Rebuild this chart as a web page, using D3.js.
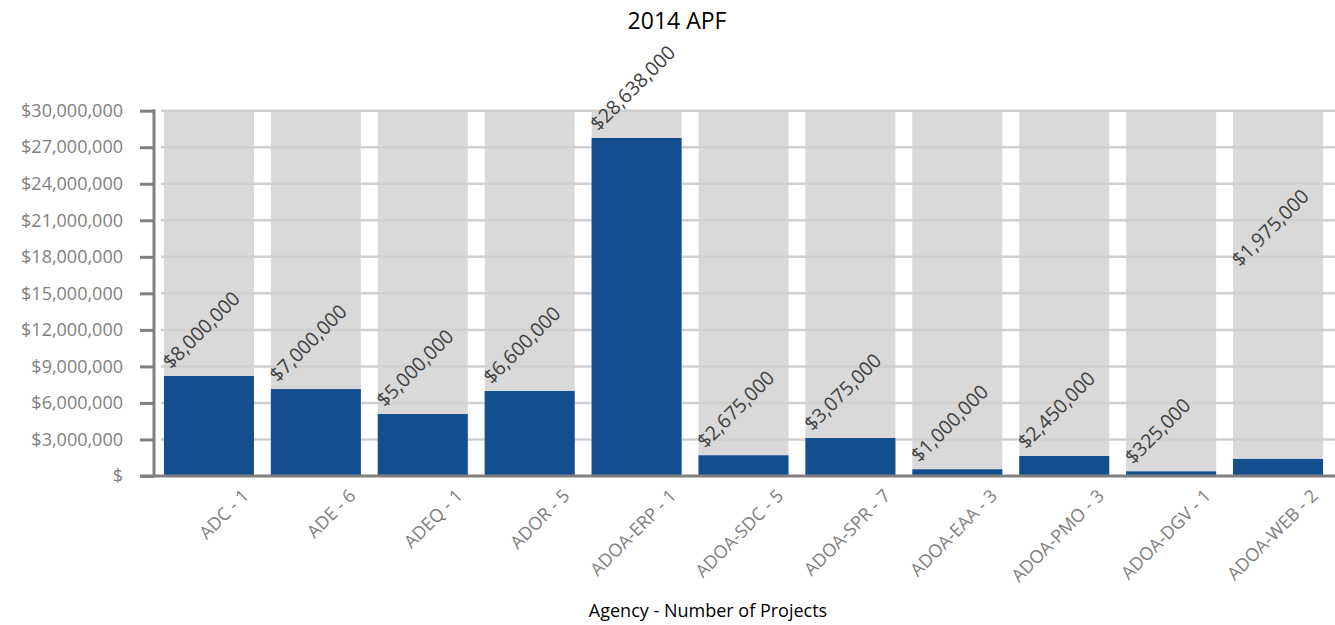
<!DOCTYPE html>
<html>
<head>
<meta charset="utf-8">
<script src="https://d3js.org/d3.v7.min.js"></script>
<style>
  body { margin: 0; background: #fff; }
  text { font-family: "Open Sans", "Noto Sans", sans-serif; }
</style>
</head>
<body>
<div id="my_dataviz"></div>
<script>
// chart data
var agencies = ["ADC - 1", "ADE - 6", "ADEQ - 1", "ADOR - 5", "ADOA-ERP - 1", "ADOA-SDC - 5",
                "ADOA-SPR - 7", "ADOA-EAA - 3", "ADOA-PMO - 3", "ADOA-DGV - 1", "ADOA-WEB - 2"];
// bar heights as drawn
var barValues = [8210000, 7140000, 5090000, 6980000, 27760000, 1700000,
                 3120000, 550000, 1640000, 380000, 1400000];
// data label text
var labelValues = [8000000, 7000000, 5000000, 6600000, 28638000, 2675000,
                   3075000, 1000000, 2450000, 325000, 1975000];
// value at which each data label sits
var labelAt = [8210000, 7140000, 5090000, 6980000, 27760000, 1700000,
               3120000, 550000, 1640000, 380000, 16600000];
var yTicks = [0, 3000000, 6000000, 9000000, 12000000, 15000000, 18000000,
              21000000, 24000000, 27000000, 30000000];
var yMax = 30000000;

var width = 1335, height = 625;

var svg = d3.select("#my_dataviz")
    .append("svg")
    .attr("width", width)
    .attr("height", height);

// scales
var x = d3.scaleBand()
    .domain(agencies)
    .range([155.5, 1331.5])
    .paddingInner(0.158)
    .paddingOuter(0.079);

var y = d3.scaleLinear()
    .domain([0, yMax])
    .range([476, 110.7]);

var money = d3.format("$,");

// gray background bars
svg.selectAll(".bg")
    .data(agencies)
    .enter()
    .append("rect")
    .attr("class", "bg")
    .attr("x", function(d) { return x(d); })
    .attr("y", y(yMax))
    .attr("width", x.bandwidth())
    .attr("height", y(0) - y(yMax))
    .attr("fill", "#d9d9d9");

// gridlines
svg.selectAll(".grid")
    .data(yTicks.filter(function(d) { return d > 0; }))
    .enter()
    .append("line")
    .attr("class", "grid")
    .attr("x1", 161)
    .attr("x2", width)
    .attr("y1", function(d) { return y(d); })
    .attr("y2", function(d) { return y(d); })
    .attr("stroke", "#d0d0d0")
    .attr("stroke-width", 2.5);

// blue bars
svg.selectAll(".bar")
    .data(agencies)
    .enter()
    .append("rect")
    .attr("class", "bar")
    .attr("x", function(d) { return x(d); })
    .attr("y", function(d, i) { return y(barValues[i]); })
    .attr("width", x.bandwidth())
    .attr("height", function(d, i) { return y(0) - y(barValues[i]); })
    .attr("fill", "#134e8f");

// Y axis
var yAxis = svg.append("g")
    .attr("transform", "translate(154,0)")
    .call(d3.axisLeft(y)
        .tickValues(yTicks)
        .tickSize(14)
        .tickPadding(17)
        .tickFormat(function(d) { return d === 0 ? "$" : money(d); }));
yAxis.select(".domain").remove();
yAxis.selectAll(".tick line").attr("stroke", "#808080").attr("stroke-width", 3);
yAxis.selectAll(".tick text")
    .attr("fill", "#7f7f7f")
    .style("font-size", "18px");

svg.append("line")
    .attr("x1", 154).attr("x2", 154)
    .attr("y1", y(yMax) - 1.5).attr("y2", y(0))
    .attr("stroke", "#808080")
    .attr("stroke-width", 3);

// X axis
svg.append("line")
    .attr("x1", 140).attr("x2", width)
    .attr("y1", y(0)).attr("y2", y(0))
    .attr("stroke", "#808080")
    .attr("stroke-width", 3);

svg.selectAll(".xlab")
    .data(agencies)
    .enter()
    .append("text")
    .attr("class", "xlab")
    .attr("transform", function(d) {
        return "translate(" + (x(d) + x.bandwidth() - 4) + ",497) rotate(-45)";
    })
    .attr("text-anchor", "end")
    .attr("fill", "#7f7f7f")
    .style("font-size", "18px")
    .text(function(d) { return d; });

// data labels
svg.selectAll(".vlab")
    .data(agencies)
    .enter()
    .append("text")
    .attr("class", "vlab")
    .attr("transform", function(d, i) {
        return "translate(" + (x(d) + 7) + "," + (y(labelAt[i]) - 6) + ") rotate(-45)";
    })
    .attr("fill", "#404040")
    .style("font-size", "19.5px")
    .text(function(d, i) { return money(labelValues[i]); });

// titles
svg.append("text")
    .attr("x", 677)
    .attr("y", 29)
    .attr("text-anchor", "middle")
    .attr("fill", "#000")
    .style("font-size", "23px")
    .text("2014 APF");

svg.append("text")
    .attr("x", 708)
    .attr("y", 617)
    .attr("text-anchor", "middle")
    .attr("fill", "#000")
    .style("font-size", "18px")
    .text("Agency - Number of Projects");
</script>
</body>
</html>
